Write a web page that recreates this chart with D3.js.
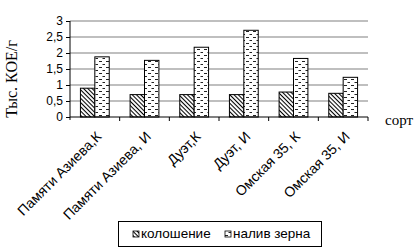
<!DOCTYPE html>
<meta charset="utf-8">
<script src="https://d3js.org/d3.v7.min.js"></script>
<style>
  body { margin: 0; background: #fff; }
  text { font-family: 'Liberation Sans', Arial, sans-serif; fill: #000; }
  .serif { font-family: 'Liberation Serif', 'Times New Roman', serif; }
</style>
<div id="chart"></div>
<script>
// data
var categories = ["Памяти Азиева,К", "Памяти Азиева, И", "Дуэт,К", "Дуэт, И", "Омская 35, К", "Омская 35, И"];
var seriesNames = ["колошение", "налив зерна"];
var kolosh = [0.9, 0.7, 0.7, 0.7, 0.78, 0.74];
var naliv = [1.88, 1.77, 2.18, 2.71, 1.83, 1.24];
var yTicks = [0, 0.5, 1, 1.5, 2, 2.5, 3];

var W = 415, H = 251;
var m = {left: 70, right: 368, top: 21, bottom: 117};

var svg = d3.select("#chart").append("svg")
    .attr("width", W).attr("height", H);

var defs = svg.append("defs");
var hatch = defs.append("pattern")
    .attr("id", "hatch")
    .attr("patternUnits", "userSpaceOnUse")
    .attr("width", 3).attr("height", 3)
    .attr("patternTransform", "rotate(45)");
hatch.append("rect").attr("width", 3).attr("height", 3).attr("fill", "#fff");
hatch.append("line").attr("x1", 0).attr("x2", 3).attr("y1", 0.5).attr("y2", 0.5)
    .attr("stroke", "#000").attr("stroke-width", 1.1);

var dash = defs.append("pattern")
    .attr("id", "dash")
    .attr("patternUnits", "userSpaceOnUse")
    .attr("width", 7).attr("height", 6);
dash.append("rect").attr("width", 7).attr("height", 6).attr("fill", "#fff");
dash.append("rect").attr("x", 1).attr("y", 1).attr("width", 3).attr("height", 1).attr("fill", "#222");
dash.append("rect").attr("x", 4.5).attr("y", 4).attr("width", 3).attr("height", 1).attr("fill", "#222");

var fills = ["url(#hatch)", "url(#dash)"];

var x = d3.scaleBand().domain(categories).range([m.left, m.right]);
var y = d3.scaleLinear().domain([0, 3]).range([m.bottom, m.top]);
var barW = x.bandwidth() * 0.29;

// gridlines
svg.append("g").selectAll("line")
  .data(yTicks.slice(1))
  .join("line")
    .attr("x1", m.left).attr("x2", m.right)
    .attr("y1", function(d) { return y(d); })
    .attr("y2", function(d) { return y(d); })
    .attr("stroke", "#808080")
    .attr("stroke-width", 1.2);

// bars
var data = [];
categories.forEach(function(c, i) {
  data.push({ cat: c, s: 0, v: kolosh[i] });
  data.push({ cat: c, s: 1, v: naliv[i] });
});
svg.append("g").selectAll("rect")
  .data(data)
  .join("rect")
    .attr("x", function(d) { return x(d.cat) + x.bandwidth() / 2 + (d.s - 1) * barW; })
    .attr("y", function(d) { return y(d.v); })
    .attr("width", barW)
    .attr("height", function(d) { return y(0) - y(d.v); })
    .attr("fill", function(d) { return fills[d.s]; })
    .attr("stroke", "#000")
    .attr("stroke-width", 1);

// y axis
var yAxis = svg.append("g")
    .attr("transform", "translate(" + m.left + ",0)")
    .call(d3.axisLeft(y).tickValues(yTicks).tickSize(4).tickPadding(3)
      .tickFormat(function(d) { return String(d).replace(".", ","); }));
yAxis.select(".domain").attr("stroke", "#000").attr("d", "M0," + m.top + "V" + (m.bottom + 3));
yAxis.selectAll("text").style("font-size", "12px").style("font-family", "'Liberation Sans', Arial, sans-serif");

// x axis line + ticks between categories
svg.append("line")
    .attr("x1", m.left).attr("x2", m.right)
    .attr("y1", m.bottom).attr("y2", m.bottom)
    .attr("stroke", "#000");
svg.append("g").selectAll("line")
  .data(categories)
  .join("line")
    .attr("x1", function(d) { return x(d) + x.bandwidth(); })
    .attr("x2", function(d) { return x(d) + x.bandwidth(); })
    .attr("y1", m.bottom).attr("y2", m.bottom + 4)
    .attr("stroke", "#000");

// x labels
svg.append("g").selectAll("text")
  .data(categories)
  .join("text")
    .attr("transform", function(d) {
      return "translate(" + (x(d) + x.bandwidth() / 2 + 4) + "," + (m.bottom + 17) + ") rotate(-45)";
    })
    .attr("text-anchor", "end")
    .attr("dy", "0.35em")
    .style("font-size", "14px")
    .text(function(d) { return d; });

// axis titles
svg.append("text")
    .attr("class", "serif")
    .attr("transform", "translate(17,79) rotate(-90)")
    .attr("text-anchor", "middle")
    .style("font-size", "16px")
    .text("Тыс. КОЕ/г");
svg.append("text")
    .attr("class", "serif")
    .attr("x", 385).attr("y", 125)
    .style("font-size", "15px")
    .text("сорт");

// legend
var lg = svg.append("g");
lg.append("rect")
    .attr("x", 118.5).attr("y", 221.5)
    .attr("width", 203).attr("height", 25)
    .attr("fill", "#fff").attr("stroke", "#000");
var lx = [133, 225];
seriesNames.forEach(function(n, i) {
  lg.append("rect")
      .attr("x", lx[i]).attr("y", 231)
      .attr("width", 6).attr("height", 6)
      .attr("fill", fills[i]).attr("stroke", "#000").attr("stroke-width", 0.8);
  lg.append("text")
      .attr("x", lx[i] + 8).attr("y", 238)
      .style("font-size", "13.5px")
      .text(n);
});
</script>
